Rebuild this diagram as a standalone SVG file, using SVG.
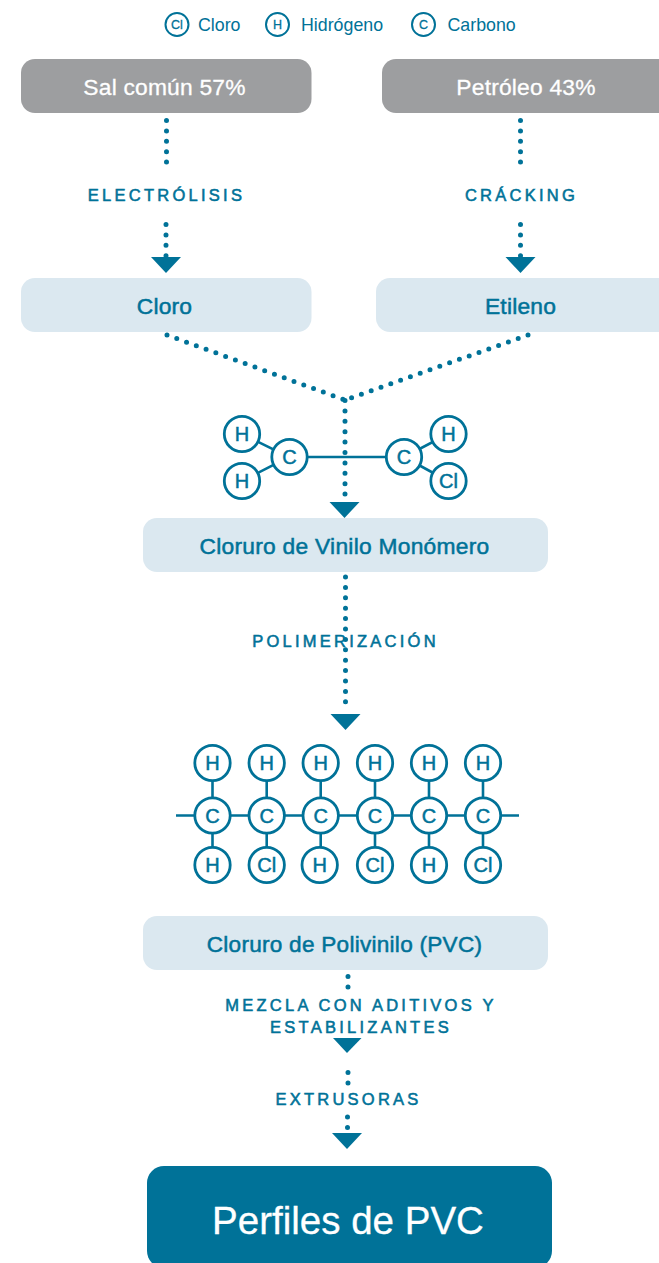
<svg xmlns="http://www.w3.org/2000/svg" width="659" height="1263" viewBox="0 0 659 1263">
<style>
text{font-family:"Liberation Sans",Arial,sans-serif;text-anchor:middle;fill:#007298}
.grey{fill:#9d9ea0}
.light{fill:#dbe8f0}
.dark{fill:#007298}
.t-w{font-size:22.800px;letter-spacing:.2px;fill:#fff;stroke:#fff;stroke-width:.3px}
.t-b{font-size:22.800px;letter-spacing:.2px;stroke:#007298;stroke-width:.5px}
.lab{font-size:16.500px;letter-spacing:3.250px;stroke:#007298;stroke-width:.55px}
.leg{font-size:17.800px;text-anchor:start}
.atom circle{fill:#fff;stroke:#007298;stroke-width:2.8}
.atom text{font-size:20px;stroke:#007298;stroke-width:.5px}
.bond{stroke:#007298;stroke-width:2.6;fill:none}
.dots{stroke:#007298;stroke-width:5;stroke-linecap:round;fill:none;stroke-dasharray:0 10.4}
.legc circle{fill:#fff;stroke:#007298;stroke-width:2}
.legc text{font-size:12.500px;stroke:#007298;stroke-width:.3px}
</style>
<defs>
<g id="arrow"><path d="M-15 0H15L0 16Z" class="dark"/></g>
</defs>
<g id="legend">
<g class="legc"><circle cx="177" cy="24.500" r="11.500"/><text x="177" y="29">Cl</text></g>
<text class="leg" x="198" y="30.500">Cloro</text>
<g class="legc"><circle cx="277.500" cy="24.500" r="11.500"/><text x="277.500" y="29">H</text></g>
<text class="leg" x="301" y="30.500">Hidrógeno</text>
<g class="legc"><circle cx="423.500" cy="24.500" r="11.500"/><text x="423.500" y="29">C</text></g>
<text class="leg" x="447.500" y="30.500">Carbono</text>
</g>
<g id="connectors">
<path class="dots" d="M166.500 120.500V163"/>
<path class="dots" d="M166 224.500V256"/>
<path class="dots" d="M520.500 120.500V163"/>
<path class="dots" d="M520.500 224.500V256"/>
<path class="dots" d="M167 335L345 400"/>
<path class="dots" d="M528 335L345 400"/>
<path class="dots" d="M345 400.500V502"/>
<path class="dots" d="M345.500 577V712"/>
<path class="dots" d="M348 976.500V988"/>
<path class="dots" d="M348 1072.500V1084"/>
<path class="dots" d="M347.500 1117V1128"/>
<use href="#arrow" x="166" y="257"/>
<use href="#arrow" x="520.500" y="257"/>
<use href="#arrow" x="344.500" y="502"/>
<use href="#arrow" x="345.500" y="714"/>
<path class="dark" d="M333 1038H361.500L347 1053Z"/>
<use href="#arrow" x="347" y="1133"/>
</g>
<g id="sal"><rect class="grey" x="21" y="59" width="290.500" height="54" rx="14"/><text class="t-w" x="164.500" y="95">Sal común 57%</text></g>
<g id="petroleo"><rect class="grey" x="382" y="59" width="300" height="54" rx="14"/><text class="t-w" x="526" y="95">Petróleo 43%</text></g>
<g id="electrolisis"><text class="lab" x="166.500" y="201">ELECTRÓLISIS</text></g>
<g id="cracking"><text class="lab" x="521.500" y="201">CRÁCKING</text></g>
<g id="cloro"><rect class="light" x="21" y="278" width="290.500" height="54" rx="14"/><text class="t-b" x="164.500" y="313.500">Cloro</text></g>
<g id="etileno"><rect class="light" x="376" y="278" width="300" height="54" rx="14"/><text class="t-b" x="520.500" y="313.500">Etileno</text></g>
<g id="molecula-monomero">
<path class="bond" d="M242 434L289 457L242 481M289 457H404M448 434L404 457L448 481"/>
<g class="atom">
<circle cx="242" cy="434" r="17.700"/><text x="242" y="441">H</text>
<circle cx="242" cy="481" r="17.700"/><text x="242" y="488">H</text>
<circle cx="289.500" cy="457" r="17.700"/><text x="289.500" y="464">C</text>
<circle cx="404" cy="457" r="17.700"/><text x="404" y="464">C</text>
<circle cx="448.500" cy="434" r="17.700"/><text x="448.500" y="441">H</text>
<circle cx="448.500" cy="481" r="17.700"/><text x="448.500" y="488">Cl</text>
</g>
</g>
<g id="monomero"><rect class="light" x="143" y="518" width="405" height="54" rx="14"/><text class="t-b" x="344.500" y="553.500" style="font-size:22.800px;letter-spacing:.25px">Cloruro de Vinilo Monómero</text></g>
<g id="polimerizacion"><text class="lab" x="345.500" y="647">POLIMERIZACIÓN</text></g>
<g id="molecula-polimero">
<path class="bond" d="M176 815.500H519M212.500 763V865M266.700 763V865M320.700 763V865M375 763V865M429 763V865M483 763V865"/>
<g class="atom">
<circle cx="212.500" cy="763" r="17.700"/><text x="212.500" y="770">H</text>
<circle cx="266.700" cy="763" r="17.700"/><text x="266.700" y="770">H</text>
<circle cx="320.700" cy="763" r="17.700"/><text x="320.700" y="770">H</text>
<circle cx="375" cy="763" r="17.700"/><text x="375" y="770">H</text>
<circle cx="429" cy="763" r="17.700"/><text x="429" y="770">H</text>
<circle cx="483" cy="763" r="17.700"/><text x="483" y="770">H</text>
<circle cx="212.500" cy="815.500" r="17.700"/><text x="212.500" y="822.500">C</text>
<circle cx="266.700" cy="815.500" r="17.700"/><text x="266.700" y="822.500">C</text>
<circle cx="320.700" cy="815.500" r="17.700"/><text x="320.700" y="822.500">C</text>
<circle cx="375" cy="815.500" r="17.700"/><text x="375" y="822.500">C</text>
<circle cx="429" cy="815.500" r="17.700"/><text x="429" y="822.500">C</text>
<circle cx="483" cy="815.500" r="17.700"/><text x="483" y="822.500">C</text>
<circle cx="212.500" cy="865" r="17.700"/><text x="212.500" y="872">H</text>
<circle cx="266.700" cy="865" r="17.700"/><text x="266.700" y="872">Cl</text>
<circle cx="319.700" cy="865" r="17.700"/><text x="319.700" y="872">H</text>
<circle cx="375" cy="865" r="17.700"/><text x="375" y="872">Cl</text>
<circle cx="429" cy="865" r="17.700"/><text x="429" y="872">H</text>
<circle cx="483" cy="865" r="17.700"/><text x="483" y="872">Cl</text>
</g>
</g>
<g id="pvc"><rect class="light" x="143" y="916" width="405" height="54" rx="14"/><text class="t-b" x="344.500" y="951.500" style="font-size:22.600px;letter-spacing:.25px">Cloruro de Polivinilo (PVC)</text></g>
<g id="mezcla"><text class="lab" x="361" y="1010.500">MEZCLA CON ADITIVOS Y</text><text class="lab" x="361" y="1033">ESTABILIZANTES</text></g>
<g id="extrusoras"><text class="lab" x="348.500" y="1105">EXTRUSORAS</text></g>
<g id="perfiles"><rect class="dark" x="147" y="1166" width="405" height="102" rx="17"/><text x="348" y="1234" style="font-size:38.500px;fill:#fff;stroke:#fff;stroke-width:.3px">Perfiles de PVC</text></g>
</svg>
